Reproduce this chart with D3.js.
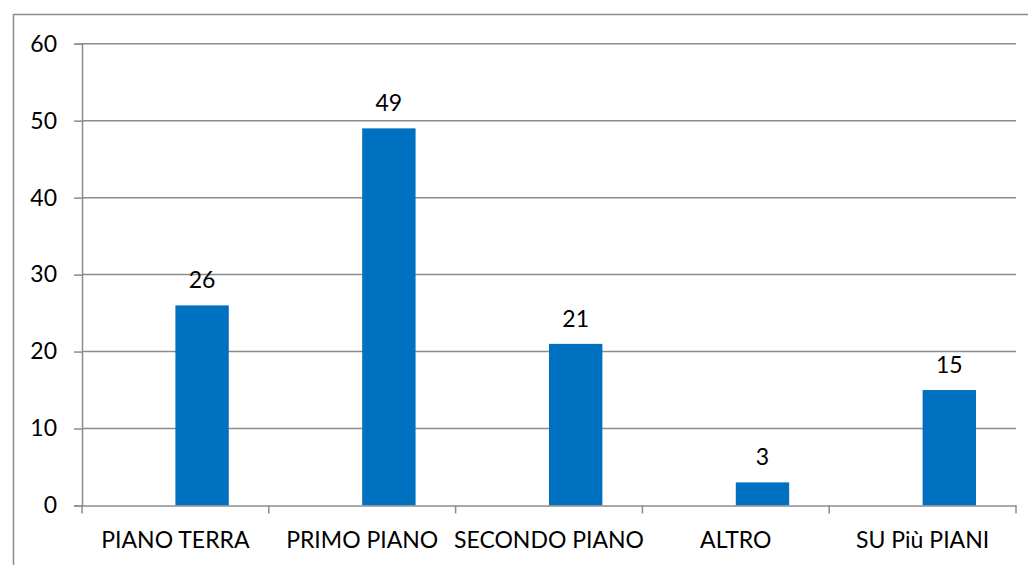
<!DOCTYPE html>
<html><head><meta charset="utf-8">
<script src="https://cdn.jsdelivr.net/npm/d3@7/dist/d3.min.js"></script>
<style>body{margin:0;background:#fff;} svg{display:block;}</style>
</head><body>
<svg id="chart" width="1028" height="565"></svg>
<script>
const categories = ["PIANO TERRA","PRIMO PIANO","SECONDO PIANO","ALTRO","SU Più PIANI"];
const values = [26,49,21,3,15];
const yTicks = [0,10,20,30,40,50,60];

(function(){
const svg = d3.select("#chart");
const font = "Lato, Open Sans, sans-serif";
const fs = 23;
const pLeft = 82, pRight = 1016, pTop = 43.7, pBottom = 505.5;

// outer frame
svg.append("rect").attr("x",13.5).attr("y",14.5).attr("width",1040).attr("height",600)
  .attr("fill","none").attr("stroke","#8c8c8c").attr("stroke-width",1.5);

const x = d3.scaleBand().domain(categories).range([pLeft,pRight]).padding(0);
const y = d3.scaleLinear().domain([0,60]).range([pBottom,pTop]);

// gridlines
svg.append("g").selectAll("line").data(yTicks.filter(d=>d>0)).join("line")
  .attr("x1",pLeft).attr("x2",pRight).attr("y1",d=>y(d)).attr("y2",d=>y(d))
  .attr("stroke","#8c8c8c").attr("stroke-width",1.5);

// y axis
const yAxis = svg.append("g").attr("transform",`translate(${pLeft},0)`)
  .call(d3.axisLeft(y).tickValues(yTicks).tickSize(8).tickPadding(17));
yAxis.select(".domain").attr("stroke","#8c8c8c").attr("stroke-width",1.5);
yAxis.selectAll(".tick line").attr("stroke","#8c8c8c").attr("stroke-width",1.5);
yAxis.selectAll("text").attr("font-family",font).attr("font-size",fs).attr("fill","#000");

// bars (second series of a two-series cluster, gap 150%)
const w = x.bandwidth()/3.5;
svg.append("g").selectAll("rect").data(values).join("rect")
  .attr("x",(d,i)=>x(categories[i]) + 1.75*w)
  .attr("width",w)
  .attr("y",d=>y(d)).attr("height",d=>y(0)-y(d))
  .attr("fill","#0070C0");

// value labels
svg.append("g").selectAll("text").data(values).join("text")
  .attr("x",(d,i)=>x(categories[i]) + 2.25*w)
  .attr("y",d=>y(d)-17)
  .attr("text-anchor","middle")
  .attr("font-family",font).attr("font-size",fs).attr("fill","#000")
  .text(d=>d);

// x axis
const xAxis = svg.append("g").attr("transform",`translate(0,${pBottom})`)
  .call(d3.axisBottom(x).tickSize(0).tickPadding(26));
xAxis.select(".domain").attr("stroke","#8c8c8c").attr("stroke-width",1.5);
xAxis.selectAll("text").attr("font-family",font).attr("font-size",fs).attr("fill","#000");
// category boundary ticks
const bounds = categories.map(c=>x(c)).concat([pRight]);
svg.append("g").selectAll("line").data(bounds).join("line")
  .attr("x1",d=>d).attr("x2",d=>d).attr("y1",pBottom).attr("y2",pBottom+8)
  .attr("stroke","#8c8c8c").attr("stroke-width",1.5);
})();
</script>
</body></html>
